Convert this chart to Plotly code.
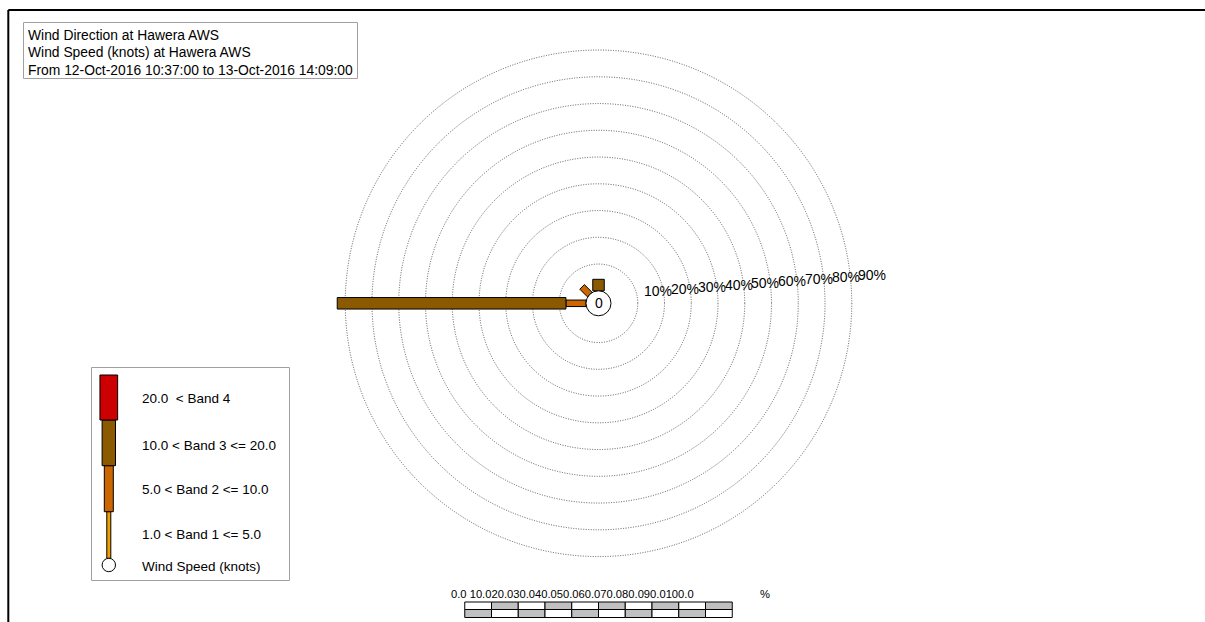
import plotly.graph_objects as go
import numpy as np

# ---------------- data ----------------
directions = ["N", "NNE", "NE", "ENE", "E", "ESE", "SE", "SSE",
              "S", "SSW", "SW", "WSW", "W", "WNW", "NW", "NNW"]
dir_angles = [0.0, 22.5, 45.0, 67.5, 90.0, 112.5, 135.0, 157.5,
              180.0, 202.5, 225.0, 247.5, 270.0, 292.5, 315.0, 337.5]
band1_pct = [0, 0, 0, 0, 0, 0, 0, 0, 0, 0, 0, 0, 0.0, 0, 0.0, 0]
band2_pct = [0, 0, 0, 0, 0, 0, 0, 0, 0, 0, 0, 0, 7.5, 0, 4.0, 0]
band3_pct = [4.3, 0, 0, 0, 0, 0, 0, 0, 0, 0, 0, 0, 85.5, 0, 0, 0]
band4_pct = [0, 0, 0, 0, 0, 0, 0, 0, 0, 0, 0, 0, 0, 0, 0, 0]
calm_pct = 0
band_labels = ["1.0 < Band 1 <= 5.0", "5.0 < Band 2 <= 10.0",
               "10.0 < Band 3 <= 20.0", "20.0\u00a0 < Band 4"]
calm_label = "Wind Speed (knots)"
ring_pcts = [10, 20, 30, 40, 50, 60, 70, 80, 90]
scale_ticks = [0.0, 10.0, 20.0, 30.0, 40.0, 50.0, 60.0, 70.0, 80.0, 90.0, 100.0]
title_lines = ["Wind Direction at Hawera AWS",
               "Wind Speed (knots) at Hawera AWS",
               "From 12-Oct-2016 10:37:00 to 13-Oct-2016 14:09:00"]

# ---------------- style ----------------
W, H = 1205, 622
CX, CY = 598.5, 303.3          # rose centre in page pixels
PX = 2.675                     # pixels per percent
CALM_PX = 12.5
CALM_R = CALM_PX / PX
band_colors = ["#F0A000", "#CC6600", "#8B5A00", "#CC0000"]
band_width_px = [3.5, 6.5, 11.5, 15.0]
FONT = "Liberation Sans, Arial, sans-serif"


def xp(px):
    return px / W


def yp(py):
    return 1 - py / H


def dx(px):
    return (px - CX) / PX


def dy(py):
    return (CY - py) / PX


fig = go.Figure()
shapes = []
annotations = []

# rings
for p in ring_pcts:
    r = CALM_R + p
    shapes.append(dict(type="circle", xref="x", yref="y", x0=-r, x1=r, y0=-r, y1=r,
                       line=dict(color="#333333", width=0.8, dash="1px,1.5px"), layer="below"))
    rpx = r * PX
    annotations.append(dict(x=r + 4.5 / PX, y=(8.9 + 0.075 * rpx) / PX, xref="x", yref="y",
                            text=f"{p}%", showarrow=False, xanchor="left", yanchor="middle",
                            font=dict(size=14, color="black", family=FONT)))

# rose bars
bands = [band1_pct, band2_pct, band3_pct, band4_pct]
for i, ang in enumerate(dir_angles):
    th = np.deg2rad(ang)
    u = np.array([np.sin(th), np.cos(th)])
    pv = np.array([np.cos(th), -np.sin(th)])
    r0 = CALM_R
    for b in range(4):
        v = bands[b][i]
        if v <= 0:
            continue
        r1 = r0 + v
        hw = band_width_px[b] / 2 / PX
        pts = [r0 * u + hw * pv, r1 * u + hw * pv, r1 * u - hw * pv, r0 * u - hw * pv, r0 * u + hw * pv]
        fig.add_trace(go.Scatter(x=[q[0] for q in pts], y=[q[1] for q in pts], mode="lines",
                                 fill="toself", fillcolor=band_colors[b],
                                 line=dict(color="black", width=1), hoverinfo="skip",
                                 showlegend=False))
        r0 = r1

# calm circle
shapes.append(dict(type="circle", xref="x", yref="y", x0=-CALM_R, x1=CALM_R, y0=-CALM_R, y1=CALM_R,
                   fillcolor="white", line=dict(color="black", width=1), layer="above"))
annotations.append(dict(x=0, y=0, xref="x", yref="y", text=f"{calm_pct}", showarrow=False,
                        font=dict(size=14, color="black", family=FONT)))

# frame
shapes.append(dict(type="line", xref="paper", yref="paper", x0=xp(8.3), x1=xp(1300), y0=yp(10), y1=yp(10),
                   line=dict(color="black", width=2)))
shapes.append(dict(type="line", xref="paper", yref="paper", x0=xp(8.3), x1=xp(8.3), y0=yp(10), y1=yp(700),
                   line=dict(color="black", width=2)))

# title box
shapes.append(dict(type="rect", xref="paper", yref="paper", x0=xp(23.5), x1=xp(357.5), y0=yp(22.5), y1=yp(78.5),
                   line=dict(color="#A0A0A0", width=1), fillcolor="white"))
for k, t in enumerate(title_lines):
    annotations.append(dict(x=xp(26), y=yp(35 + 17.5 * k), xref="paper", yref="paper", text=t,
                            showarrow=False, xanchor="left", yanchor="middle",
                            font=dict(size=13.85, color="black", family=FONT)))

# legend box
shapes.append(dict(type="rect", xref="paper", yref="paper", x0=xp(91.5), x1=xp(289.5), y0=yp(367.5), y1=yp(580.5),
                   line=dict(color="#A0A0A0", width=1), fillcolor="white"))
leg_cx = 108.8
leg_segments = [(511.7, 558.3), (465.7, 511.7), (420.0, 465.7), (375.0, 420.0)]
leg_widths = [4.0, 9.0, 13.4, 17.7]
for b in range(4):
    top, bot = leg_segments[b][0], leg_segments[b][1]
    shapes.append(dict(type="rect", xref="paper", yref="paper",
                       x0=xp(leg_cx - leg_widths[b] / 2), x1=xp(leg_cx + leg_widths[b] / 2),
                       y0=yp(bot), y1=yp(top), fillcolor=band_colors[b],
                       line=dict(color="black", width=1)))
shapes.append(dict(type="circle", xref="paper", yref="paper", x0=xp(leg_cx - 6.7), x1=xp(leg_cx + 6.7),
                   y0=yp(565 + 6.7), y1=yp(565 - 6.7), fillcolor="white",
                   line=dict(color="black", width=1)))
leg_text_y = [534.3, 489.3, 445.0, 398.3]
for b in range(4):
    annotations.append(dict(x=xp(140), y=yp(leg_text_y[b]), xref="paper", yref="paper", text=band_labels[b],
                            showarrow=False, xanchor="left", yanchor="middle",
                            font=dict(size=13.5, color="black", family=FONT)))
annotations.append(dict(x=xp(140), y=yp(566), xref="paper", yref="paper", text=calm_label,
                        showarrow=False, xanchor="left", yanchor="middle",
                        font=dict(size=13.5, color="black", family=FONT)))

# scale bar (0..100 % in rose units, centred under the rose)
half = (scale_ticks[-1] - scale_ticks[0]) / 2
for k in range(len(scale_ticks) - 1):
    x0 = scale_ticks[k] - half
    x1 = scale_ticks[k + 1] - half
    top_fill = "white" if k % 2 == 0 else "#C0C0C0"
    bot_fill = "#C0C0C0" if k % 2 == 0 else "white"
    shapes.append(dict(type="rect", xref="x", yref="paper", x0=x0, x1=x1, y0=yp(609.5), y1=yp(602.0),
                       fillcolor=top_fill, line=dict(color="black", width=1)))
    shapes.append(dict(type="rect", xref="x", yref="paper", x0=x0, x1=x1, y0=yp(617.5), y1=yp(609.5),
                       fillcolor=bot_fill, line=dict(color="black", width=1)))
scale_text = "0.0 " + "".join(f"{v:.1f}" for v in scale_ticks[1:])
annotations.append(dict(x=xp(449), y=yp(594), xref="paper", yref="paper", text=scale_text,
                        showarrow=False, xanchor="left", yanchor="middle",
                        font=dict(size=11.2, color="black", family=FONT)))
annotations.append(dict(x=xp(758), y=yp(594), xref="paper", yref="paper", text="%",
                        showarrow=False, xanchor="left", yanchor="middle",
                        font=dict(size=11.2, color="black", family=FONT)))

fig.update_layout(
    width=W, height=H,
    margin=dict(l=0, r=0, t=0, b=0),
    paper_bgcolor="white", plot_bgcolor="white",
    xaxis=dict(range=[dx(0), dx(W)], visible=False, fixedrange=True),
    yaxis=dict(range=[dy(H), dy(0)], visible=False, fixedrange=True),
    shapes=shapes, annotations=annotations,
    showlegend=False,
)

fig.write_html("out.html", config={"displayModeBar": False},
               post_script="document.body.style.margin='0';document.body.style.overflow='hidden';")
